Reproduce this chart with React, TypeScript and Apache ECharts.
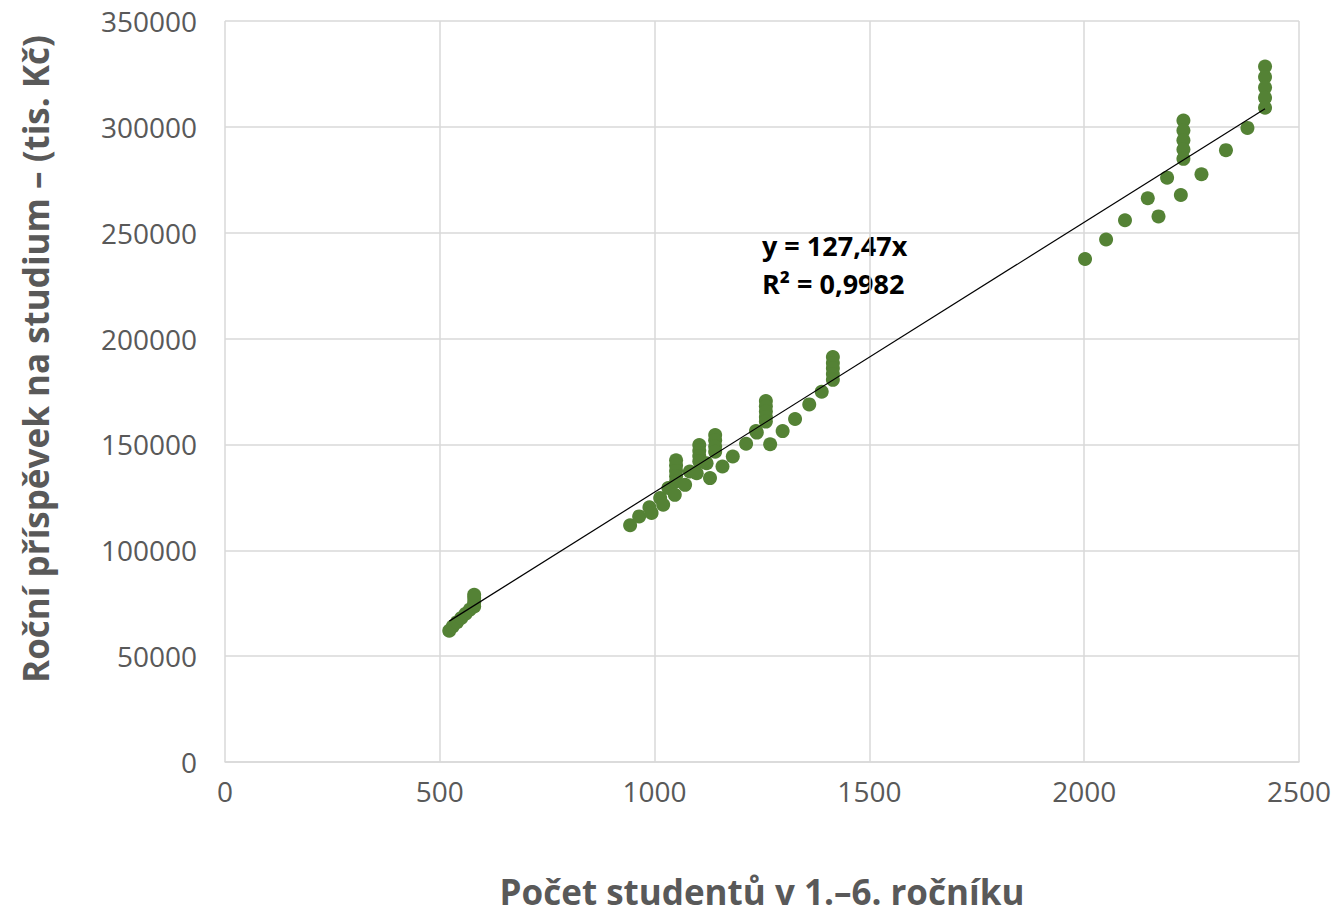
import React, { useEffect, useRef } from "react";
import * as echarts from "echarts";

const studentsX: number[] = [
  522, 530, 540, 550, 560, 570, 580, 580, 580, 580,
  943, 964, 988, 993, 1013, 1020, 1032, 1047,
  1050, 1050, 1050, 1050, 1050,
  1071, 1082, 1098,
  1104, 1104, 1104, 1104,
  1121, 1129,
  1141, 1141, 1141, 1141,
  1158, 1182, 1213, 1236, 1238,
  1259, 1259, 1259, 1259, 1259,
  1269, 1298, 1327, 1360, 1389,
  1415, 1415, 1415, 1415, 1415,
  2002, 2051, 2095, 2148, 2173, 2193, 2225,
  2231, 2231, 2231, 2231, 2231,
  2273, 2330, 2380,
  2421, 2421, 2421, 2421, 2421,
];

const contributionY: number[] = [
  62000, 64000, 66000, 68000, 70000, 72000, 73500, 75500, 77500, 79000,
  111800, 116000, 120300, 117600, 124700, 121500, 129400, 126200,
  142500, 140000, 137500, 135000, 132500,
  130900, 137200, 136400,
  149700, 147000, 144500, 142000,
  141100, 134100,
  154400, 152000, 149000, 146600,
  139600, 144300, 150300, 156300, 155600,
  170500, 168000, 165500, 163000, 160800,
  150100, 156300, 162000, 168900, 174900,
  191300, 188500, 186000, 183300, 180500,
  237600, 246800, 255900, 266300, 257700, 276000, 267800,
  303000, 298300, 293700, 289300, 284900,
  277600, 289000, 299500,
  328500, 323500, 318600, 313800, 309000,
];

const trendXRange: number[] = [522, 2421];
const trendSlope = 127.47;
const equationLines: string[] = ["y = 127,47x", "R² = 0,9982"];

const xTitle = "Počet studentů v 1.–6. ročníku";
const yTitle = "Roční příspěvek na studium – (tis. Kč)";

export default function App() {
  const ref = useRef<HTMLDivElement>(null);
  useEffect(() => {
    if (!ref.current) return;
    const chart = echarts.init(ref.current, undefined, { renderer: "svg" });
    const points = studentsX.map((x, i) => [x, contributionY[i]]);
    const trend = trendXRange.map((x) => [x, x * trendSlope]);
    const font = "'Open Sans', Lato, sans-serif";
    chart.setOption({
      animation: false,
      backgroundColor: "#ffffff",
      grid: { left: 225, right: 35, top: 21, bottom: 149, containLabel: false },
      xAxis: {
        type: "value",
        min: 0,
        max: 2500,
        interval: 500,
        name: xTitle,
        nameLocation: "middle",
        nameGap: 112,
        nameTextStyle: { fontSize: 35, fontWeight: "bold", color: "#595959", fontFamily: font },
        axisLine: { show: true, lineStyle: { color: "#d9d9d9", width: 1.5 } },
        axisTick: { show: false },
        axisLabel: { fontSize: 28, color: "#595959", fontFamily: font, margin: 15, formatter: (v: number) => String(v) },
        splitLine: { show: true, lineStyle: { color: "#d9d9d9", width: 1.5 } },
      },
      yAxis: {
        type: "value",
        min: 0,
        max: 350000,
        interval: 50000,
        axisLine: { show: false },
        axisTick: { show: false },
        axisLabel: { fontSize: 28, color: "#595959", fontFamily: font, margin: 28, formatter: (v: number) => String(v) },
        splitLine: { show: true, lineStyle: { color: "#d9d9d9", width: 1.5 } },
      },
      series: [
        {
          type: "line",
          data: trend,
          showSymbol: false,
          symbol: "none",
          lineStyle: { color: "#000000", width: 1.2 },
          z: 3,
        },
        {
          type: "scatter",
          data: points,
          symbol: "circle",
          symbolSize: 14,
          itemStyle: { color: "#548235", opacity: 1 },
          z: 2,
        },
      ],
      graphic: [
        {
          type: "text",
          x: 35,
          y: 359,
          rotation: Math.PI / 2,
          style: {
            text: yTitle,
            font: `bold 35px ${font}`,
            fill: "#595959",
            align: "center",
            verticalAlign: "middle",
          },
        },
        {
          type: "text",
          left: 762,
          top: 226,
          style: {
            text: equationLines.join("\n"),
            font: `bold 27px ${font}`,
            fill: "#000000",
            lineHeight: 38,
            align: "left",
          },
        },
      ],
    });
    return () => chart.dispose();
  }, []);
  return (
    <div
      ref={ref}
      style={{ position: "fixed", left: 0, top: 0, width: 1334, height: 914 }}
    />
  );
}
